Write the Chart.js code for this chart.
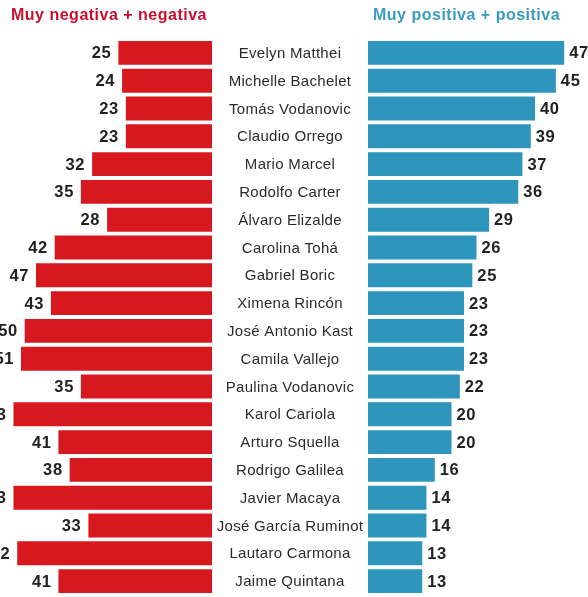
<!DOCTYPE html>
<html>
<head>
<meta charset="utf-8">
<script src="https://cdn.jsdelivr.net/npm/chart.js@4.4.0/dist/chart.umd.min.js"></script>
<style>
body { margin: 0; background: #fff; }
#wrap { position: relative; width: 588px; height: 597px; overflow: hidden; }
.title { position: absolute; top: 6px; font: bold 16px "Liberation Sans", Arial, sans-serif; letter-spacing: 0.5px; white-space: nowrap; }
#t-neg { left: 11px; color: #c8102e; }
#t-pos { left: 373px; color: #3a9cc4; }
</style>
</head>
<body>
<div id="wrap">
  <canvas id="chart" width="588" height="597"></canvas>
  <div class="title" id="t-neg">Muy negativa + negativa</div>
  <div class="title" id="t-pos">Muy positiva + positiva</div>
</div>
<script>
const names = [
  'Evelyn Matthei', 'Michelle Bachelet', 'Tomás Vodanovic', 'Claudio Orrego',
  'Mario Marcel', 'Rodolfo Carter', 'Álvaro Elizalde', 'Carolina Tohá',
  'Gabriel Boric', 'Ximena Rincón', 'José Antonio Kast', 'Camila Vallejo',
  'Paulina Vodanovic', 'Karol Cariola', 'Arturo Squella', 'Rodrigo Galilea',
  'Javier Macaya', 'José García Ruminot', 'Lautaro Carmona', 'Jaime Quintana'
]
const negativa = [25, 24, 23, 23, 32, 35, 28, 42, 47, 43, 50, 51, 35, 53, 41, 38, 53, 33, 52, 41]
const positiva = [47, 45, 40, 39, 37, 36, 29, 26, 25, 23, 23, 23, 22, 20, 20, 16, 14, 14, 13, 13]

const red = '#d7191f'
const blue = '#2e96bd'

// names in the middle column + value labels at bar ends
const labelsPlugin = {
  id: 'labels',
  afterDatasetsDraw(chart) {
    const ctx = chart.ctx
    const mid = chart.scales.xMid
    const y = chart.scales.y
    ctx.save()
    ctx.textBaseline = 'middle'

    ctx.font = '15px "Liberation Sans", Arial, sans-serif'
    ctx.letterSpacing = '0.3px'
    ctx.fillStyle = '#2b2b2b'
    ctx.textAlign = 'center'
    names.forEach(function(n, i){
      ctx.fillText(n, (mid.left + mid.right) / 2, y.getPixelForValue(i) + 1)
    })

    ctx.font = 'bold 16.5px "Liberation Sans", Arial, sans-serif'
    ctx.letterSpacing = '0.6px'
    ctx.fillStyle = '#222'
    chart.getDatasetMeta(0).data.forEach(function(bar, i){
      ctx.textAlign = 'right'
      ctx.fillText(String(negativa[i]), bar.x - 7, bar.y + 1)
    })
    chart.getDatasetMeta(1).data.forEach(function(bar, i){
      ctx.textAlign = 'left'
      ctx.fillText(String(positiva[i]), bar.x + 5, bar.y + 1)
    })
    ctx.restore()
  }
}

new Chart(document.getElementById('chart'), {
  type: 'bar',
  data: {
    labels: names,
    datasets: [
      { label: 'Muy negativa + negativa', data: negativa, xAxisID: 'xNeg', yAxisID: 'y',
        backgroundColor: red, grouped: false, barPercentage: 0.86, categoryPercentage: 1 },
      { label: 'Muy positiva + positiva', data: positiva, xAxisID: 'xPos', yAxisID: 'y',
        backgroundColor: blue, grouped: false, barPercentage: 0.86, categoryPercentage: 1 }
    ]
  },
  options: {
    indexAxis: 'y',
    responsive: false,
    animation: false,
    layout: { padding: { top: 39, bottom: 2, left: 0, right: 0 } },
    plugins: { legend: { display: false }, tooltip: { enabled: false } },
    scales: {
      y: { type: 'category', display: false, offset: true },
      xNeg: { type: 'linear', axis: 'x', position: 'bottom', stack: 'row', stackWeight: 212,
        min: 0, max: 56.6, reverse: true, display: false },
      xMid: { type: 'linear', axis: 'x', position: 'bottom', stack: 'row', stackWeight: 156,
        min: 0, max: 1, display: false },
      xPos: { type: 'linear', axis: 'x', position: 'bottom', stack: 'row', stackWeight: 220,
        min: 0, max: 52.7, display: false }
    }
  },
  plugins: [labelsPlugin]
})
</script>
</body>
</html>
